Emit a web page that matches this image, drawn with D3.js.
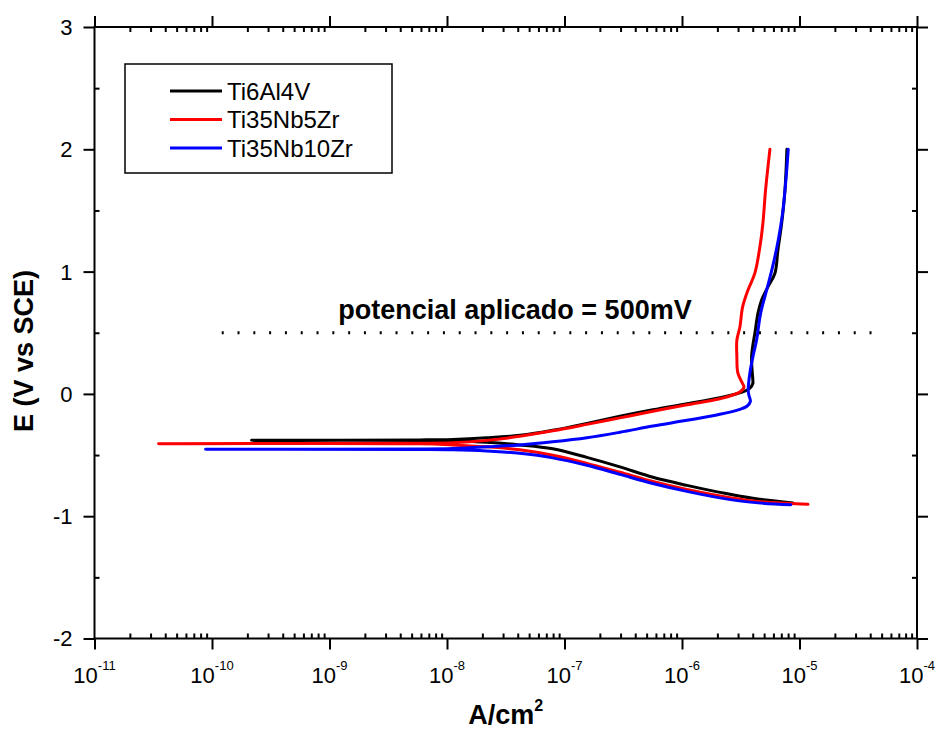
<!DOCTYPE html>
<html>
<head>
<meta charset="utf-8">
<script src="https://cdn.jsdelivr.net/npm/d3@7"></script>
<style>
  html, body { margin: 0; padding: 0; background: #fff; }
  svg { display: block; font-family: "Liberation Sans", Arial, sans-serif; }
</style>
</head>
<body>
<svg id="chart" width="936" height="735"></svg>
<script>
// Potentiodynamic polarization curves: current density (A/cm²) vs potential (V vs SCE)
const seriesNames = ["Ti6Al4V", "Ti35Nb5Zr", "Ti35Nb10Zr"];
const seriesColors = ["#000000", "#ff0000", "#0000ff"];

// Ti6Al4V: cathodic branch (high -> low current), corrosion tip, then anodic branch
const ti6al4vCurrent = [
  8.79e-6, 4.01e-6, 2.10e-6, 1.10e-6, 5.65e-7, 2.96e-7, 1.55e-7, 7.94e-8, 4.16e-8, 2.18e-8, 1.12e-8, 5.86e-9,
  2.17e-10,
  5.86e-9, 1.12e-8, 2.18e-8, 4.16e-8, 7.94e-8, 1.55e-7, 2.96e-7, 5.65e-7, 1.10e-6, 2.10e-6,
  3.30e-6, 3.78e-6, 4.01e-6, 4.01e-6, 3.94e-6, 3.91e-6, 4.01e-6, 4.17e-6, 4.43e-6, 4.75e-6,
  5.38e-6, 6.18e-6, 6.55e-6, 7.05e-6, 7.52e-6, 7.81e-6
];
const ti6al4vPotential = [
  -0.891, -0.854, -0.805, -0.748, -0.682, -0.597, -0.519, -0.449, -0.417, -0.396, -0.385, -0.381,
  -0.380,
  -0.376, -0.372, -0.359, -0.339, -0.298, -0.241, -0.183, -0.130, -0.081, -0.032,
  0.016, 0.046, 0.087, 0.111, 0.209, 0.302, 0.398, 0.496, 0.658, 0.766,
  0.875, 0.987, 1.175, 1.395, 1.665, 2.0
];

// Ti35Nb5Zr
const ti35nb5zrCurrent = [
  1.18e-5, 7.81e-6, 4.01e-6, 2.10e-6, 1.10e-6, 5.65e-7, 2.96e-7, 1.55e-7, 7.94e-8, 4.16e-8, 2.18e-8, 1.12e-8, 5.86e-9,
  3.51e-11,
  5.86e-9, 1.12e-8, 2.18e-8, 4.16e-8, 7.94e-8, 1.55e-7, 2.96e-7, 5.65e-7, 1.10e-6, 2.10e-6,
  3.11e-6, 3.37e-6, 3.30e-6, 2.99e-6, 2.93e-6, 2.93e-6, 3.11e-6, 3.28e-6, 3.64e-6, 4.17e-6,
  4.60e-6, 4.88e-6, 5.14e-6, 5.60e-6
];
const ti35nb5zrPotential = [
  -0.903, -0.895, -0.875, -0.834, -0.781, -0.715, -0.641, -0.568, -0.502, -0.457, -0.433, -0.417, -0.408,
  -0.407,
  -0.404, -0.400, -0.380, -0.347, -0.302, -0.249, -0.196, -0.142, -0.089, -0.040,
  0.016, 0.056, 0.079, 0.169, 0.308, 0.439, 0.547, 0.711, 0.848, 0.987,
  1.202, 1.395, 1.665, 2.0
];

// Ti35Nb10Zr
const ti35nb10zrCurrent = [
  8.45e-6, 4.01e-6, 2.10e-6, 1.10e-6, 5.65e-7, 2.96e-7, 1.55e-7, 7.94e-8, 4.16e-8, 2.18e-8, 1.12e-8, 5.86e-9,
  8.81e-11,
  5.86e-9, 1.12e-8, 2.18e-8, 4.16e-8, 7.94e-8, 1.55e-7, 2.96e-7, 5.65e-7, 1.10e-6, 2.10e-6,
  3.11e-6, 3.57e-6, 3.82e-6, 3.71e-6, 3.66e-6,
  3.78e-6, 4.01e-6, 4.31e-6, 4.67e-6, 5.25e-6, 5.90e-6, 6.59e-6, 7.18e-6, 7.66e-6, 8.02e-6
];
const ti35nb10zrPotential = [
  -0.906, -0.887, -0.850, -0.797, -0.732, -0.658, -0.584, -0.523, -0.486, -0.466, -0.456, -0.454,
  -0.453,
  -0.450, -0.446, -0.433, -0.417, -0.392, -0.359, -0.314, -0.263, -0.216, -0.167,
  -0.126, -0.101, -0.061, -0.011, 0.029,
  0.169, 0.302, 0.439, 0.660, 0.848, 1.038, 1.257, 1.478, 1.748, 2.0
];

// Axis ticks
const xDecades = [-11, -10, -9, -8, -7, -6, -5, -4];
const yTickValues = [-2, -1, 0, 1, 2, 3];
const yMinorValues = [-1.5, -0.5, 0.5, 1.5, 2.5];

// Applied potential reference line
const appliedPotential = 0.5;
const appliedLineFrom = 1.21e-10;
const appliedLineTo = 4.2e-5;
const appliedLabel = "potencial aplicado = 500mV";

const xTitle = "A/cm";
const yTitle = "E (V vs SCE)";

(function draw() {
  // ---- layout ----
  const mLeft = 94.5, mRight = 917, mTop = 27, mBottom = 638.5;

  const x = d3.scaleLog().domain([1e-11, 1e-4]).range([mLeft, mRight]);
  const y = d3.scaleLinear().domain([-2, 3]).range([mBottom, mTop]);

  const svg = d3.select("#chart");

  const curves = [
    { name: seriesNames[0], color: seriesColors[0], i: ti6al4vCurrent, e: ti6al4vPotential },
    { name: seriesNames[1], color: seriesColors[1], i: ti35nb5zrCurrent, e: ti35nb5zrPotential },
    { name: seriesNames[2], color: seriesColors[2], i: ti35nb10zrCurrent, e: ti35nb10zrPotential }
  ];

  const line = d3.line()
    .x(d => x(d[0]))
    .y(d => y(d[1]))
    .curve(d3.curveCatmullRom.alpha(0.5));

  const plot = svg.append("g");
  curves.forEach(c => {
    const pts = c.i.map((v, k) => [v, c.e[k]]);
    plot.append("path")
      .attr("d", line(pts))
      .attr("fill", "none")
      .attr("stroke", c.color)
      .attr("stroke-width", 3)
      .attr("stroke-linejoin", "round")
      .attr("stroke-linecap", "round");
  });

  // reference dotted line
  svg.append("line")
    .attr("x1", x(appliedLineFrom)).attr("x2", x(appliedLineTo))
    .attr("y1", y(appliedPotential)).attr("y2", y(appliedPotential))
    .attr("stroke", "#000")
    .attr("stroke-width", 3)
    .attr("stroke-dasharray", "2 13.8");

  svg.append("text")
    .attr("x", 515).attr("y", y(appliedPotential) - 14)
    .attr("text-anchor", "middle")
    .attr("font-size", 27).attr("font-weight", "bold")
    .text(appliedLabel);

  // ---- axes ----
  const majorX = xDecades.map(p => Math.pow(10, p));
  const minorX = [];
  xDecades.slice(0, -1).forEach(p => { for (let m = 2; m <= 9; m++) minorX.push(m * Math.pow(10, p)); });

  function styleAxis(g) {
    g.select(".domain").remove();
    g.selectAll("line").attr("stroke", "#000").attr("stroke-width", 2);
    g.selectAll("text").remove();
  }

  // bottom
  svg.append("g").attr("transform", `translate(0,${mBottom})`)
    .call(d3.axisBottom(x).tickValues(majorX).tickSize(11)).call(styleAxis);
  svg.append("g").attr("transform", `translate(0,${mBottom})`)
    .call(d3.axisBottom(x).tickValues(minorX).tickSize(-5)).call(styleAxis);
  // top
  svg.append("g").attr("transform", `translate(0,${mTop})`)
    .call(d3.axisTop(x).tickValues(majorX).tickSize(11)).call(styleAxis);
  svg.append("g").attr("transform", `translate(0,${mTop})`)
    .call(d3.axisTop(x).tickValues(minorX).tickSize(-5)).call(styleAxis);
  // left
  svg.append("g").attr("transform", `translate(${mLeft},0)`)
    .call(d3.axisLeft(y).tickValues(yTickValues).tickSize(11)).call(styleAxis);
  svg.append("g").attr("transform", `translate(${mLeft},0)`)
    .call(d3.axisLeft(y).tickValues(yMinorValues).tickSize(-5)).call(styleAxis);
  // right
  svg.append("g").attr("transform", `translate(${mRight},0)`)
    .call(d3.axisRight(y).tickValues(yTickValues).tickSize(11)).call(styleAxis);
  svg.append("g").attr("transform", `translate(${mRight},0)`)
    .call(d3.axisRight(y).tickValues(yMinorValues).tickSize(-5)).call(styleAxis);

  // frame
  svg.append("rect")
    .attr("x", mLeft).attr("y", mTop)
    .attr("width", mRight - mLeft).attr("height", mBottom - mTop)
    .attr("fill", "none").attr("stroke", "#000").attr("stroke-width", 2);

  // x tick labels 10^p
  xDecades.forEach(p => {
    const t = svg.append("text")
      .attr("x", x(Math.pow(10, p)))
      .attr("y", mBottom + 44)
      .attr("text-anchor", "middle")
      .attr("font-size", 22);
    t.append("tspan").text("10");
    t.append("tspan").attr("font-size", 13).attr("dy", -13).text(String(p));
  });

  // y tick labels
  yTickValues.forEach(v => {
    svg.append("text")
      .attr("x", mLeft - 22)
      .attr("y", y(v))
      .attr("dy", "0.36em")
      .attr("text-anchor", "end")
      .attr("font-size", 22)
      .text(String(v));
  });

  // axis titles
  const xt = svg.append("text")
    .attr("x", (mLeft + mRight) / 2)
    .attr("y", 724)
    .attr("text-anchor", "middle")
    .attr("font-size", 27).attr("font-weight", "bold");
  xt.append("tspan").text(xTitle);
  xt.append("tspan").attr("font-size", 16).attr("dy", -13).text("2");

  svg.append("text")
    .attr("transform", `translate(33,351) rotate(-90)`)
    .attr("text-anchor", "middle")
    .attr("font-size", 27).attr("font-weight", "bold")
    .text(yTitle);

  // legend
  const lg = svg.append("g");
  lg.append("rect")
    .attr("x", 125).attr("y", 64).attr("width", 267).attr("height", 109)
    .attr("fill", "#fff").attr("stroke", "#000").attr("stroke-width", 1.5);
  curves.forEach((c, k) => {
    const ly = 91 + k * 28.5;
    lg.append("line")
      .attr("x1", 170).attr("x2", 222).attr("y1", ly).attr("y2", ly)
      .attr("stroke", c.color).attr("stroke-width", 3);
    lg.append("text")
      .attr("x", 227).attr("y", ly).attr("dy", "0.37em")
      .attr("font-size", 24)
      .text(c.name);
  });
})();
</script>
</body>
</html>
